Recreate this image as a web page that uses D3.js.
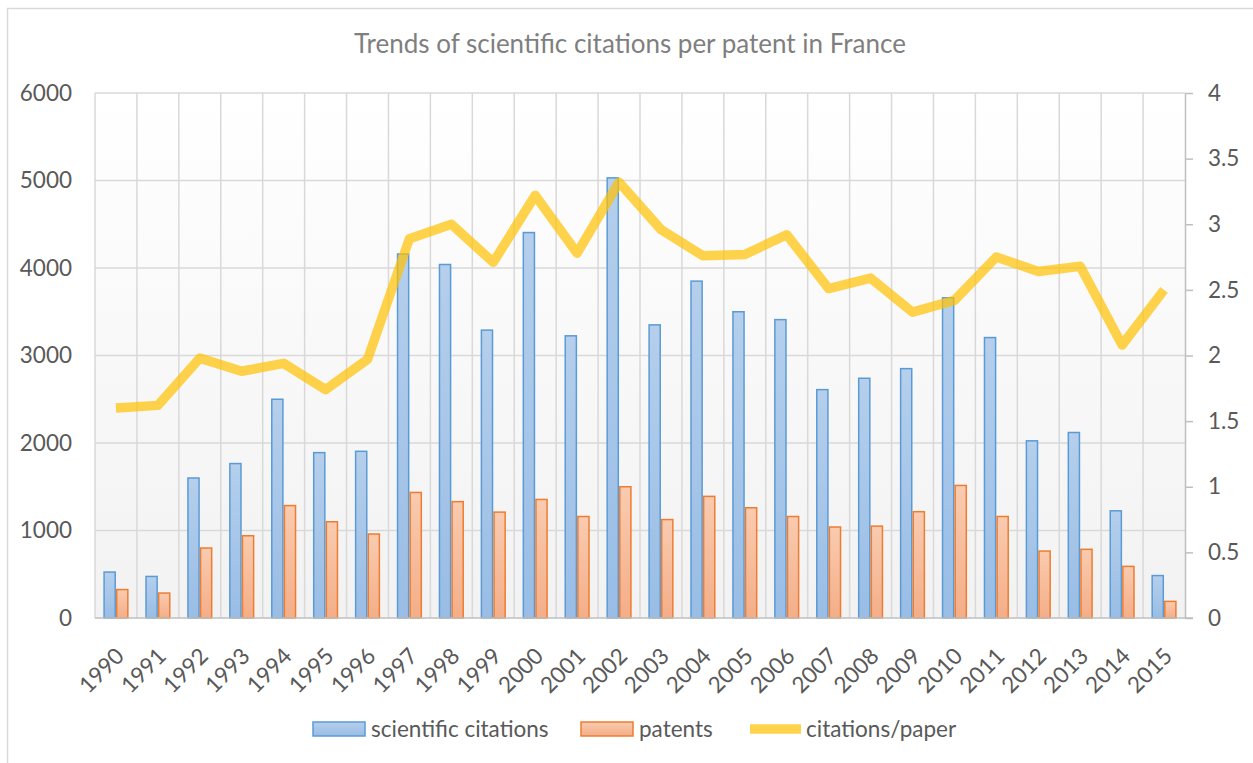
<!DOCTYPE html>
<html>
<head>
<meta charset="utf-8">
<script src="https://cdn.jsdelivr.net/npm/d3@7"></script>
<style>
  body { margin: 0; background: #fff; }
  svg { display: block; font-family: Lato, "Open Sans", sans-serif; }
</style>
</head>
<body>
<svg id="chart"></svg>
<script>
const years = ['1990', '1991', '1992', '1993', '1994', '1995', '1996', '1997', '1998', '1999',
  '2000', '2001', '2002', '2003', '2004', '2005', '2006', '2007', '2008', '2009',
  '2010', '2011', '2012', '2013', '2014', '2015']
const citations = [525, 475, 1600, 1765, 2500, 1890, 1905, 4160, 4040, 3290,
  4405, 3225, 5030, 3350, 3850, 3500, 3410, 2610, 2740, 2850,
  3660, 3205, 2025, 2120, 1225, 485]
const patents = [325, 285, 800, 940, 1285, 1100, 960, 1435, 1330, 1210,
  1355, 1160, 1500, 1125, 1390, 1260, 1160, 1040, 1050, 1215,
  1515, 1160, 765, 785, 590, 190]
const ratio = [1.60, 1.62, 1.98, 1.88, 1.94, 1.74, 1.97, 2.89, 3.00, 2.71,
  3.22, 2.78, 3.32, 2.96, 2.76, 2.77, 2.92, 2.51, 2.59, 2.33,
  2.42, 2.75, 2.64, 2.68, 2.08, 2.50]
const leftTicks = [0, 1000, 2000, 3000, 4000, 5000, 6000]
const rightTicks = [0, 0.5, 1, 1.5, 2, 2.5, 3, 3.5, 4]
const seriesNames = ['scientific citations', 'patents', 'citations/paper']

const width = 1253
const height = 763
const plot = { left: 95, right: 1185, top: 93, bottom: 618 }
const fontSize = 22.5

const svg = d3.select('#chart')
  .attr('width', width)
  .attr('height', height)

const defs = svg.append('defs')
function vGrad(id, top, bottom) {
  const g = defs.append('linearGradient')
    .attr('id', id)
    .attr('x1', 0).attr('y1', 0).attr('x2', 0).attr('y2', 1)
  g.append('stop').attr('offset', '0%').attr('stop-color', top)
  g.append('stop').attr('offset', '100%').attr('stop-color', bottom)
}
vGrad('bgGrad', '#ffffff', '#f2f2f2')
vGrad('blueGrad', '#b5cfec', '#99bde5')
vGrad('orangeGrad', '#f9cbb0', '#f4ae88')

// chart border (only top and left fall inside the picture)
svg.append('rect')
  .attr('x', 7.5).attr('y', 8.5)
  .attr('width', 1300).attr('height', 800)
  .attr('fill', 'none')
  .attr('stroke', '#d9d9d9')
  .attr('stroke-width', 1.5)

svg.append('text')
  .attr('x', 630)
  .attr('y', 53)
  .attr('text-anchor', 'middle')
  .attr('font-size', 26)
  .attr('fill', '#7f7f7f')
  .text('Trends of scientific citations per patent in France')

const x = d3.scaleBand()
  .domain(years)
  .range([plot.left, plot.right])
  .padding(0)

const xSub = d3.scaleBand()
  .domain(['c', 'p'])
  .range([0, x.bandwidth()])
  .paddingInner(0)
  .paddingOuter(0.66)

const yL = d3.scaleLinear()
  .domain([0, 6000])
  .range([plot.bottom, plot.top])

const yR = d3.scaleLinear()
  .domain([0, 4])
  .range([plot.bottom, plot.top])

// plot background
svg.append('rect')
  .attr('x', plot.left).attr('y', plot.top)
  .attr('width', plot.right - plot.left)
  .attr('height', plot.bottom - plot.top)
  .attr('fill', 'url(#bgGrad)')

// gridlines
const grid = svg.append('g').attr('stroke', '#d9d9d9').attr('stroke-width', 1.5)
grid.selectAll('.hg')
  .data(leftTicks.slice(1))
  .join('line')
  .attr('x1', plot.left).attr('x2', plot.right)
  .attr('y1', d => yL(d)).attr('y2', d => yL(d))
grid.selectAll('.vg')
  .data(years)
  .join('line')
  .attr('x1', d => x(d)).attr('x2', d => x(d))
  .attr('y1', plot.top).attr('y2', plot.bottom)

// bars
const groups = svg.append('g')
  .selectAll('g')
  .data(years)
  .join('g')
  .attr('transform', d => `translate(${x(d)},0)`)

groups.append('rect')
  .attr('x', xSub('c') + 0.75)
  .attr('y', (d, i) => yL(citations[i]))
  .attr('width', xSub.bandwidth() - 1.5)
  .attr('height', (d, i) => plot.bottom - yL(citations[i]))
  .attr('fill', 'url(#blueGrad)')
  .attr('stroke', '#5b9bd5')
  .attr('stroke-width', 1.5)

groups.append('rect')
  .attr('x', xSub('p') + 0.75)
  .attr('y', (d, i) => yL(patents[i]))
  .attr('width', xSub.bandwidth() - 1.5)
  .attr('height', (d, i) => plot.bottom - yL(patents[i]))
  .attr('fill', 'url(#orangeGrad)')
  .attr('stroke', '#ed7d31')
  .attr('stroke-width', 1.5)

// left axis
const yAxisL = d3.axisLeft(yL).tickValues(leftTicks).tickFormat(d3.format('d')).tickSize(0).tickPadding(0)
svg.append('g')
  .attr('transform', 'translate(72,0)')
  .call(yAxisL)
  .call(g => g.select('.domain').remove())
  .selectAll('text')
  .attr('font-family', 'Lato, "Open Sans", sans-serif')
  .attr('font-size', fontSize)
  .attr('fill', '#595959')

// bottom axis
const xAxis = d3.axisBottom(x).tickSize(0)
svg.append('g')
  .attr('transform', `translate(0,${plot.bottom})`)
  .call(xAxis)
  .call(g => g.select('.domain').remove())
  .selectAll('text')
  .attr('font-family', 'Lato, "Open Sans", sans-serif')
  .attr('font-size', fontSize)
  .attr('fill', '#595959')
  .attr('text-anchor', 'end')
  .attr('dy', '0.35em')
  .attr('y', 0)
  .attr('transform', 'translate(4,34) rotate(-45)')

svg.append('line')
  .attr('x1', plot.left).attr('x2', plot.right + 8)
  .attr('y1', plot.bottom).attr('y2', plot.bottom)
  .attr('stroke', '#bfbfbf')
  .attr('stroke-width', 1.5)

// right axis
const yAxisR = d3.axisRight(yR).tickValues(rightTicks).tickFormat(d3.format('~g'))
  .tickSize(8).tickPadding(15).tickSizeOuter(0)
svg.append('g')
  .attr('transform', `translate(${plot.right},0)`)
  .call(yAxisR)
  .call(g => g.select('.domain').attr('stroke', '#bfbfbf').attr('stroke-width', 1.5))
  .call(g => g.selectAll('.tick line').attr('stroke', '#bfbfbf').attr('stroke-width', 1.5))
  .selectAll('text')
  .attr('font-family', 'Lato, "Open Sans", sans-serif')
  .attr('font-size', fontSize)
  .attr('fill', '#595959')

// ratio line
const line = d3.line()
  .x((d, i) => x(years[i]) + x.bandwidth() / 2)
  .y(d => yR(d))

svg.append('path')
  .datum(ratio)
  .attr('d', line)
  .attr('fill', 'none')
  .attr('stroke', '#ffc000')
  .attr('stroke-opacity', 0.7)
  .attr('stroke-width', 9.5)
  .attr('stroke-linejoin', 'round')

// legend
const legendItems = [
  { name: seriesNames[0], x: 313, kind: 'bar', fill: 'url(#blueGrad)', stroke: '#5b9bd5' },
  { name: seriesNames[1], x: 581, kind: 'bar', fill: 'url(#orangeGrad)', stroke: '#ed7d31' },
  { name: seriesNames[2], x: 750, kind: 'line', stroke: '#ffc000' }
]
const legend = svg.append('g')
const li = legend.selectAll('g')
  .data(legendItems)
  .join('g')
  .attr('transform', d => `translate(${d.x},729)`)

li.filter(d => d.kind === 'bar')
  .append('rect')
  .attr('x', 0).attr('y', -7)
  .attr('width', 52).attr('height', 14)
  .attr('fill', d => d.fill)
  .attr('stroke', d => d.stroke)
  .attr('stroke-width', 1.5)

li.filter(d => d.kind === 'line')
  .append('line')
  .attr('x1', 0).attr('x2', 51)
  .attr('y1', 0).attr('y2', 0)
  .attr('stroke', d => d.stroke)
  .attr('stroke-opacity', 0.7)
  .attr('stroke-width', 9.5)

li.append('text')
  .attr('x', d => d.kind === 'bar' ? 58 : 56)
  .attr('y', 0)
  .attr('dy', '0.35em')
  .attr('font-size', fontSize)
  .attr('fill', '#595959')
  .text(d => d.name)
</script>
</body>
</html>
